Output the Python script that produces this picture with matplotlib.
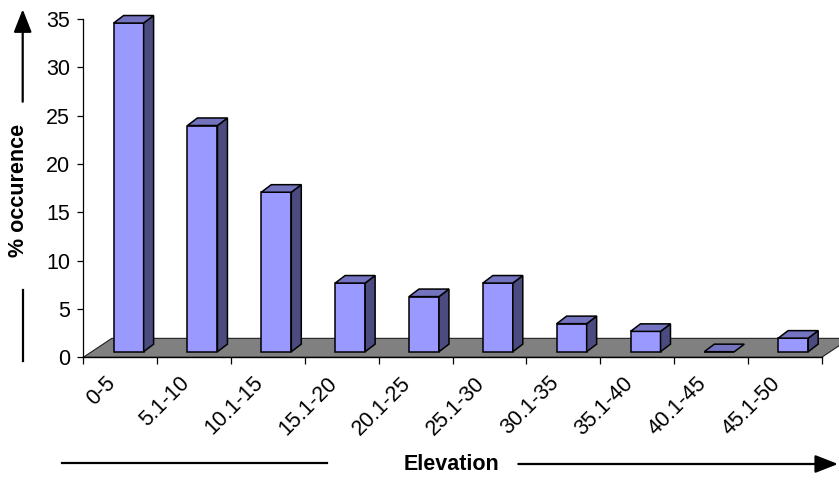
import matplotlib
matplotlib.use("Agg")
import matplotlib.pyplot as plt
from matplotlib.patches import Polygon
from matplotlib.transforms import ScaledTranslation

plt.rcParams["font.family"] = ["Liberation Sans", "DejaVu Sans"]

# Elevation classes and their share of occurrences (%)
categories = ["0-5", "5.1-10", "10.1-15", "15.1-20", "20.1-25",
              "25.1-30", "30.1-35", "35.1-40", "40.1-45", "45.1-50"]
occurrence = [34.0, 23.4, 16.5, 7.1, 5.7, 7.1, 2.9, 2.1, 0.0, 1.4]
y_ticks = [0, 5, 10, 15, 20, 25, 30, 35]

W, H = 839, 480
fig = plt.figure(figsize=(W / 100, H / 100), dpi=100)
ax = fig.add_axes([83.3 / W, (H - 357.3) / H, 738.4 / W, 338.3 / H])
n = len(categories)
ax.set_xlim(0, n)
ax.set_ylim(0, 35)

# pseudo-3D geometry (data units)
floor_dx, floor_dy = 0.386, 1.96     # depth of the floor
lift, shift = 0.58, 0.114            # bar front-face offset into the floor
bar_w = 0.406                        # front-face width
bar_dx, bar_dy = 0.135, 0.78         # bar depth

front_c, side_c, top_c = "#9999FF", "#4B4B80", "#7373BF"

# floor
floor = Polygon([(0, 0), (n + 0.0, 0), (n + floor_dx, floor_dy), (floor_dx, floor_dy)],
                closed=True, facecolor="#808080", edgecolor="#202020",
                linewidth=0.8, clip_on=False, zorder=1)
ax.add_patch(floor)

centers = [i + 0.5 + shift for i in range(n)]
bars = ax.bar(centers, occurrence, width=bar_w, bottom=lift, color=front_c,
              edgecolor="black", linewidth=1.1, zorder=3)
for b in bars:
    b.set_clip_on(False)

for c, v in zip(centers, occurrence):
    x0, x1 = c - bar_w / 2, c + bar_w / 2
    top = lift + v
    side = Polygon([(x1, lift), (x1 + bar_dx, lift + bar_dy),
                    (x1 + bar_dx, top + bar_dy), (x1, top)],
                   closed=True, facecolor=side_c, edgecolor="black",
                   linewidth=1.1, clip_on=False, zorder=3)
    cap = Polygon([(x0, top), (x1, top), (x1 + bar_dx, top + bar_dy),
                   (x0 + bar_dx, top + bar_dy)],
                  closed=True, facecolor=top_c, edgecolor="black",
                  linewidth=1.1, clip_on=False, zorder=3)
    if v > 0:
        ax.add_patch(side)
    ax.add_patch(cap)

# axes styling
for s in ("top", "right"):
    ax.spines[s].set_visible(False)
ax.spines["left"].set_linewidth(0.9)
ax.spines["bottom"].set_linewidth(1.0)
ax.spines["bottom"].set_zorder(2)

ax.set_yticks(y_ticks)
ax.set_yticklabels([str(t) for t in y_ticks], fontsize=15.5)
ax.tick_params(axis="y", direction="out", length=4.5, width=0.9, pad=5)

ax.set_xticks(range(n + 1))
ax.set_xticklabels([])
ax.tick_params(axis="x", which="major", direction="out", length=5, width=0.9)
ax.set_xticks([i + 0.5 for i in range(n)], minor=True)
ax.set_xticklabels(categories, minor=True, rotation=45, ha="right",
                   rotation_mode="anchor", fontsize=15.5)
ax.tick_params(axis="x", which="minor", length=0, pad=11)
nudge = ScaledTranslation(-15 / 100, 0, fig.dpi_scale_trans)
for lbl in ax.get_xticklabels(minor=True):
    lbl.set_transform(lbl.get_transform() + nudge)

# axis titles with direction arrows
fig.text(19 / W, 1 - 190 / H, "% occurence", rotation=90, fontsize=15.5,
         fontweight="bold", ha="center", va="center")
fig.text(451.7 / W, 1 - 464 / H, "Elevation", fontsize=15.5,
         fontweight="bold", ha="center", va="center")

arrow = dict(arrowstyle="-|>,head_length=1.4,head_width=0.55", color="black",
             lw=1.6, mutation_scale=10, shrinkA=0, shrinkB=0)
ax.annotate("", xy=(22.7 / W, 1 - 9.3 / H), xytext=(22.7 / W, 1 - 101.7 / H),
            xycoords="figure fraction", textcoords="figure fraction",
            arrowprops=arrow)
ax.annotate("", xy=(838 / W, 1 - 464 / H), xytext=(518.3 / W, 1 - 464 / H),
            xycoords="figure fraction", textcoords="figure fraction",
            arrowprops=arrow)
fig.add_artist(plt.Line2D([22.7 / W, 22.7 / W], [1 - 290 / H, 1 - 360.7 / H],
                          color="black", lw=1.6))
fig.add_artist(plt.Line2D([61.7 / W, 326.7 / W], [1 - 462.7 / H, 1 - 462.7 / H],
                          color="black", lw=1.6))

fig.savefig("out.png", dpi=100)
